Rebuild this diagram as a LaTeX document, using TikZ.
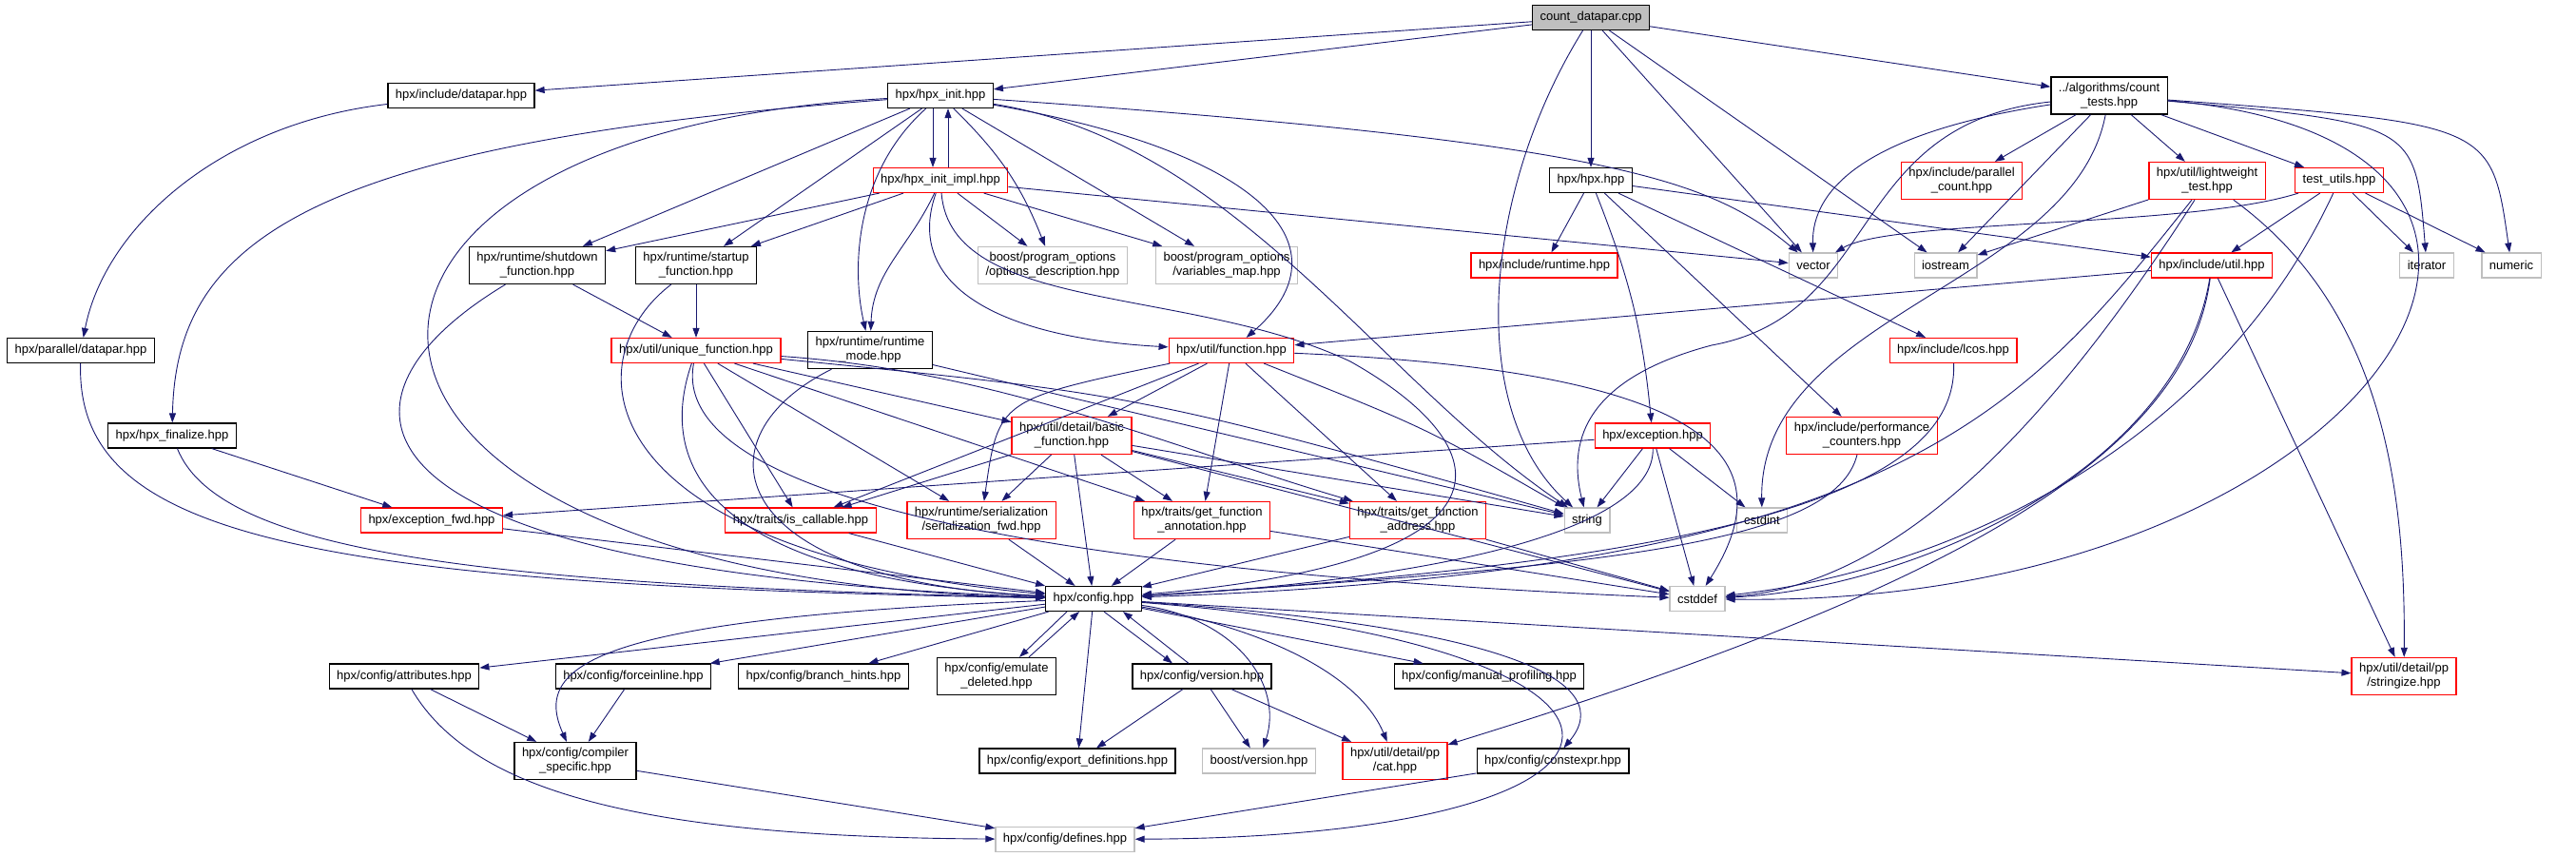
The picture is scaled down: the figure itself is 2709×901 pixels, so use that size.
\documentclass[tikz,border=0pt]{standalone}
\usepackage{fontspec}
\setmainfont{Liberation Sans}
\usepackage{tikz}
\usetikzlibrary{arrows.meta}
\usepackage{xcolor}
\definecolor{depBlue} {HTML}{191970}
\definecolor{sysGray} {HTML}{BFBFBF}
\definecolor{rootGray}{HTML}{BFBFBF}
\tikzset{
  file/.style    = {rectangle, draw=black, fill=white, line width=1.2pt,
                    align=center, inner xsep=8pt, inner ysep=6pt,
                    minimum height=26pt, font=\fontsize{13}{15}\selectfont},
  redfile/.style = {file, draw=red},
  sysfile/.style = {file, draw=sysGray},
  rootfile/.style= {file, fill=rootGray},
  dep/.style     = {-{Triangle[length=10pt,width=7pt]}, line width=0.9pt,
                    color=depBlue},
}
\begin{document}
\begin{tikzpicture}[x=1pt, y=1pt]
  \useasboundingbox (0,0) rectangle (2709,-901);
  % files
  \node[rootfile] (cdpp) at (1673,-18.5) {count\_datapar.cpp};
  \node[file] (incdatapar) at (485,-100.5) {hpx/include/datapar.hpp};
  \node[file] (hpxinit) at (989,-100.5) {hpx/hpx\_init.hpp};
  \node[file] (counttests) at (2218,-100.5) {../algorithms/count\\\_tests.hpp};
  \node[redfile] (initimpl) at (989,-189.5) {hpx/hpx\_init\_impl.hpp};
  \node[file] (hpxhpp) at (1673,-189.5) {hpx/hpx.hpp};
  \node[redfile] (parcount) at (2063,-190) {hpx/include/parallel\\\_count.hpp};
  \node[redfile] (lwtest) at (2321,-190) {hpx/util/lightweight\\\_test.hpp};
  \node[redfile] (testutils) at (2460,-189.5) {test\_utils.hpp};
  \node[file] (shutdown) at (565,-279) {hpx/runtime/shutdown\\\_function.hpp};
  \node[file] (startup) at (732,-279) {hpx/runtime/startup\\\_function.hpp};
  \node[sysfile] (optdesc) at (1107,-279) {boost/program\_options\\/options\_description.hpp};
  \node[sysfile] (varmap) at (1290,-279) {boost/program\_options\\/variables\_map.hpp};
  \node[redfile] (incruntime) at (1624,-279) {hpx/include/runtime.hpp};
  \node[sysfile] (vector) at (1907,-279) {vector};
  \node[sysfile] (iostream) at (2046,-279) {iostream};
  \node[redfile] (incutil) at (2326,-279) {hpx/include/util.hpp};
  \node[sysfile] (iterator) at (2552,-279) {iterator};
  \node[sysfile] (numeric) at (2641,-279) {numeric};
  \node[file] (pardatapar) at (85,-368.5) {hpx/parallel/datapar.hpp};
  \node[redfile] (uniqfunc) at (732,-368.5) {hpx/util/unique\_function.hpp};
  \node[file] (rtmode) at (915,-368) {hpx/runtime/runtime\\\_mode.hpp};
  \node[redfile] (function) at (1295,-368.5) {hpx/util/function.hpp};
  \node[redfile] (lcos) at (2054,-368.5) {hpx/include/lcos.hpp};
  \node[file] (finalize) at (181,-458) {hpx/hpx\_finalize.hpp};
  \node[redfile] (basicfunc) at (1127,-458) {hpx/util/detail/basic\\\_function.hpp};
  \node[redfile] (exception) at (1738,-458) {hpx/exception.hpp};
  \node[redfile] (perfcnt) at (1958,-458) {hpx/include/performance\\\_counters.hpp};
  \node[redfile] (excfwd) at (454,-547) {hpx/exception\_fwd.hpp};
  \node[redfile] (iscallable) at (842,-547) {hpx/traits/is\_callable.hpp};
  \node[redfile] (serfwd) at (1032,-547) {hpx/runtime/serialization\\/serialization\_fwd.hpp};
  \node[redfile] (annot) at (1264,-547) {hpx/traits/get\_function\\\_annotation.hpp};
  \node[redfile] (address) at (1491,-547) {hpx/traits/get\_function\\\_address.hpp};
  \node[sysfile] (string) at (1669,-547) {string};
  \node[sysfile] (cstdint) at (1853,-547) {cstdint};
  \node[file] (config) at (1150,-629.5) {hpx/config.hpp};
  \node[sysfile] (cstddef) at (1785,-629.5) {cstddef};
  \node[file] (attributes) at (425,-711) {hpx/config/attributes.hpp};
  \node[file] (forceinline) at (666,-711) {hpx/config/forceinline.hpp};
  \node[file] (branch) at (866,-711) {hpx/config/branch\_hints.hpp};
  \node[file] (emulate) at (1048,-711) {hpx/config/emulate\\\_deleted.hpp};
  \node[file] (version) at (1264,-711) {hpx/config/version.hpp};
  \node[file] (manprof) at (1566,-711) {hpx/config/manual\_profiling.hpp};
  \node[redfile] (stringize) at (2528,-711) {hpx/util/detail/pp\\/stringize.hpp};
  \node[file] (compspec) at (605,-800) {hpx/config/compiler\\\_specific.hpp};
  \node[file] (exportdef) at (1133,-800) {hpx/config/export\_definitions.hpp};
  \node[sysfile] (boostver) at (1324,-800) {boost/version.hpp};
  \node[redfile] (cat) at (1467,-800) {hpx/util/detail/pp\\/cat.hpp};
  \node[file] (constexpr) at (1633,-800) {hpx/config/constexpr.hpp};
  \node[sysfile] (defines) at (1120,-882.5) {hpx/config/defines.hpp};

  % count_datapar.cpp
  \foreach \dst in {incdatapar,hpxinit,hpxhpp,vector,iostream,counttests}
    \draw[dep] (cdpp) -- (\dst);
  \draw[dep] (cdpp) .. controls (1560,-200) and (1540,-430) .. (string);

  % datapar
  \draw[dep] (incdatapar) .. controls (230,-130) and (110,-240) .. (pardatapar);
  \draw[dep] (pardatapar) .. controls (80,-560) and (300,-615) .. (config);

  % hpx_init
  \draw[dep] (hpxinit) .. controls (330,-150) and (185,-250) .. (finalize);
  \draw[dep] (hpxinit) .. controls (260,-140) and (270,-610) .. (config);
  \draw[dep] (hpxinit) -- (shutdown);
  \draw[dep] (hpxinit) -- (startup);
  \draw[dep] ([xshift=-8pt]hpxinit.south) -- ([xshift=-8pt]initimpl.north);
  \draw[dep] ([xshift=8pt]initimpl.north) -- ([xshift=8pt]hpxinit.south);
  \draw[dep] (hpxinit) .. controls (900,-180) and (895,-280) .. (rtmode);
  \draw[dep] (hpxinit) to[bend left=12] (optdesc);
  \draw[dep] (hpxinit) -- (varmap);
  \draw[dep] (hpxinit) .. controls (1330,-160) and (1420,-260) .. (function);
  \draw[dep] (hpxinit) .. controls (1300,-150) and (1450,-400) .. (string);
  \draw[dep] (hpxinit) .. controls (1700,-150) and (1800,-190) .. (vector);

  % hpx_init_impl
  \foreach \dst in {shutdown,startup,optdesc,varmap,vector}
    \draw[dep] (initimpl) -- (\dst);
  \draw[dep] (initimpl) to[out=-115,in=88] (rtmode);
  \draw[dep] (initimpl) .. controls (950,-300) and (1050,-355) .. (function);
  \draw[dep] (initimpl) .. controls (1000,-330) and (1250,-300) .. (1420,-380)
    .. controls (1580,-470) and (1610,-590) .. (config);

  % finalize, shutdown, startup
  \draw[dep] (finalize) -- (excfwd);
  \draw[dep] (finalize) .. controls (230,-580) and (500,-615) .. (config);
  \draw[dep] (shutdown) -- (uniqfunc);
  \draw[dep] (shutdown) .. controls (330,-420) and (340,-600) .. (config);
  \draw[dep] (startup) -- (uniqfunc);
  \draw[dep] (startup) .. controls (600,-380) and (620,-580) .. (config);

  % unique_function, runtime_mode
  \foreach \dst in {iscallable,serfwd,annot,basicfunc}
    \draw[dep] (uniqfunc) -- (\dst);
  \draw[dep] (uniqfunc) .. controls (1050,-390) and (1230,-470) .. (address);
  \draw[dep] (uniqfunc) .. controls (1200,-415) .. (string);
  \draw[dep] (uniqfunc) .. controls (680,-520) and (800,-610) .. (config);
  \draw[dep] (uniqfunc) .. controls (700,-540) and (1200,-605) .. (cstddef);
  \draw[dep] (rtmode) .. controls (730,-460) and (760,-610) .. (config);
  \draw[dep] (rtmode) -- (string);

  % function
  \foreach \dst in {basicfunc,iscallable,annot,address}
    \draw[dep] (function) -- (\dst);
  \draw[dep] (function) .. controls (1050,-420) .. (serfwd);
  \draw[dep] (function) .. controls (1500,-450) .. (string);
  \draw[dep] (function) .. controls (1800,-390) and (1880,-480) .. (cstddef);
  \foreach \dst in {iscallable,serfwd,annot,address,config,string,cstddef}
    \draw[dep] (basicfunc) -- (\dst);
  \foreach \src in {serfwd,iscallable,annot,address,excfwd}
    \draw[dep] (\src) -- (config);
  \draw[dep] (annot) -- (cstddef);
  \draw[dep] (address) -- (cstddef);

  % hpx.hpp
  \foreach \dst in {incruntime,perfcnt,lcos,incutil}
    \draw[dep] (hpxhpp) -- (\dst);
  \draw[dep] (hpxhpp) to[bend left=8] (exception);

  % count_tests
  \foreach \dst in {parcount,lwtest,testutils,iostream}
    \draw[dep] (counttests) -- (\dst);
  \draw[dep] (counttests) .. controls (1960,-140) and (1905,-200) .. (vector);
  \draw[dep] (counttests) .. controls (1940,-130) and (1980,-330) .. (1800,-363)
    .. controls (1660,-400) and (1650,-470) .. (string);
  \draw[dep] (counttests) .. controls (2180,-300) and (1850,-330) .. (cstdint);
  \draw[dep] (counttests) .. controls (2540,-130) .. (iterator);
  \draw[dep] (counttests) .. controls (2620,-130) .. (numeric);
  \draw[dep] (counttests) .. controls (2800,-150) and (2500,-640) .. (cstddef);

  % lightweight_test, test_utils
  \draw[dep] (lwtest) -- (iostream);
  \draw[dep] (lwtest) .. controls (2130,-430) and (2000,-600) .. (config);
  \draw[dep] (lwtest) .. controls (2160,-440) and (2000,-615) .. (cstddef);
  \draw[dep] (lwtest) .. controls (2500,-320) and (2530,-500) .. (stringize);
  \draw[dep] (testutils) .. controls (2300,-240) and (1990,-230) .. (vector);
  \foreach \dst in {incutil,iterator,numeric}
    \draw[dep] (testutils) -- (\dst);
  \draw[dep] (testutils) .. controls (2330,-470) and (2050,-600) .. (cstddef);

  % util.hpp, lcos, performance counters
  \draw[dep] (incutil) -- (function);
  \draw[dep] (incutil) -- (stringize);
  \draw[dep] (incutil) .. controls (2300,-480) and (2050,-620) .. (cat);
  \draw[dep] (incutil) .. controls (2290,-500) and (2000,-620) .. (cstddef);
  \draw[dep] (lcos) .. controls (2060,-520) and (1800,-590) .. (config);
  \draw[dep] (perfcnt) .. controls (1930,-570) and (1700,-595) .. (config);

  % exception
  \foreach \dst in {excfwd,string,cstdint,cstddef}
    \draw[dep] (exception) -- (\dst);
  \draw[dep] (exception) .. controls (1740,-560) and (1500,-610) .. (config);

  % config
  \foreach \dst in {attributes,forceinline,branch,manprof,exportdef,stringize}
    \draw[dep] (config) -- (\dst);
  \draw[dep] ([xshift=-28pt]config.south) -- ([xshift=24pt]emulate.north);
  \draw[dep] ([xshift=34pt]emulate.north) -- ([xshift=-15pt]config.south);
  \draw[dep] ([xshift=11pt]config.south) -- ([xshift=-31pt]version.north);
  \draw[dep] ([xshift=-14pt]version.north) -- ([xshift=31pt]config.south);
  \draw[dep] (config) .. controls (1300,-650) and (1350,-720) .. (boostver);
  \draw[dep] (config) .. controls (1330,-660) and (1430,-710) .. (cat);
  \draw[dep] (config) .. controls (1600,-660) and (1700,-720) .. (constexpr);
  \draw[dep] (config) .. controls (1800,-680) and (1780,-880) .. (defines);
  \draw[dep] (config) .. controls (620,-650) and (560,-700) .. (compspec);
  \foreach \dst in {exportdef,boostver,cat}
    \draw[dep] (version) -- (\dst);
  \draw[dep] (attributes) -- (compspec);
  \draw[dep] (attributes) .. controls (500,-840) and (700,-880) .. (defines);
  \draw[dep] (forceinline) -- (compspec);
  \draw[dep] (compspec) -- (defines);
  \draw[dep] (constexpr) -- (defines);
\end{tikzpicture}
\end{document}
